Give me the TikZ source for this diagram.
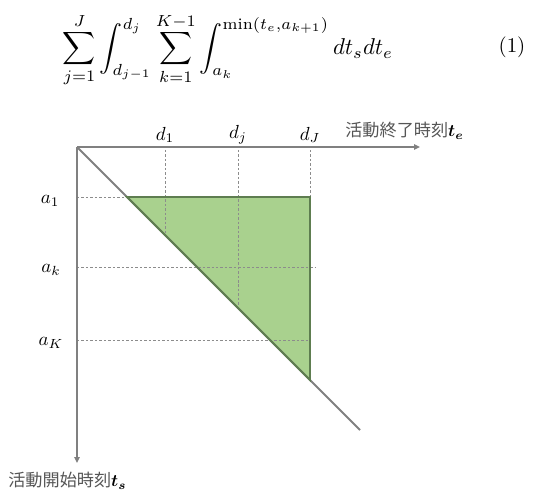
\documentclass[tikz,border=0pt]{standalone}
\usepackage{amsmath}
\usepackage{fontspec}
\newfontfamily\jp{Noto Sans CJK JP}
\usetikzlibrary{arrows.meta}
\definecolor{axisgray}{HTML}{808080}
\definecolor{dashgray}{HTML}{8C8C8C}
\definecolor{fillgreen}{HTML}{A9D18E}
\definecolor{edgegreen}{HTML}{5E7D50}
\definecolor{textgray}{HTML}{555555}
\tikzset{
  axis/.style={draw=axisgray, line width=2.4pt, -{Triangle[length=6pt,width=5.5pt]}},
  guide/.style={draw=dashgray, line width=0.7pt, dash pattern=on 2.5pt off 2pt},
  lbl/.style={inner sep=0pt, scale=1.9},
  jplbl/.style={inner sep=0pt, scale=1.72, text=textgray, font=\jp},
}
\begin{document}
\begin{tikzpicture}[x=1bp,y=-1bp]
\useasboundingbox (0,0) rectangle (558,495);
% points
\coordinate (O) at (77,147);
\coordinate (Xe) at (420,147);
\coordinate (Ye) at (77,463);
\coordinate (T1) at (127,197);
\coordinate (T2) at (310,197);
\coordinate (T3) at (310,380);
\coordinate (De) at (360,430);
% triangle fill
\fill[fillgreen] (T1) -- (T2) -- (T3) -- cycle;
% guides
\coordinate (d1t) at (165,150); \coordinate (d1b) at (165,235);
\coordinate (djt) at (238,150); \coordinate (djb) at (238,308);
\coordinate (dJt) at (310,150);
\coordinate (a1l) at (77,197);
\coordinate (akl) at (77,267); \coordinate (akr) at (315,267);
\coordinate (aKl) at (77,340); \coordinate (aKr) at (310,340);
\draw[guide] (d1t) -- (d1b);
\draw[guide] (djt) -- (djb);
\draw[guide] (dJt) -- (T2);
\draw[guide] (a1l) -- (T1);
\draw[guide] (akl) -- (akr);
\draw[guide] (aKl) -- (aKr);
% diagonal
\draw[axisgray, line width=1.8pt] (O) -- (De);
% triangle edge
\draw[edgegreen, line width=1.8pt, line join=miter] (T1) -- (T2) -- (T3) -- cycle;
% axes
\draw[axis] (O) -- (Xe);
\draw[axis] (O) -- (Ye);
% labels
\node[lbl] (ld1) at (165,135) {$d_1$};
\node[lbl] (ldj) at (238,135) {$d_j$};
\node[lbl] (ldJ) at (310,135) {$d_J$};
\node[lbl] (la1) at (50,201) {$a_1$};
\node[lbl] (lak) at (51,270) {$a_k$};
\node[lbl] (laK) at (51,343) {$a_K$};
\node[jplbl, anchor=west] (lte) at (345,131) {活動終了時刻\textcolor{black}{$\boldsymbol{t_e}$}};
\node[jplbl, anchor=west] (lts) at (8,481) {活動開始時刻\textcolor{black}{$\boldsymbol{t_s}$}};
% equation
\node[inner sep=0pt, scale=2.3] (eq) at (228,50) {$\displaystyle \sum_{j=1}^{J}\int_{d_{j-1}}^{d_j}\sum_{k=1}^{K-1}\int_{a_k}^{\min(t_e,a_{k+1})} dt_s dt_e$};
\node[inner sep=0pt, scale=2.1] (tag) at (512,47) {(1)};
\end{tikzpicture}
\end{document}
